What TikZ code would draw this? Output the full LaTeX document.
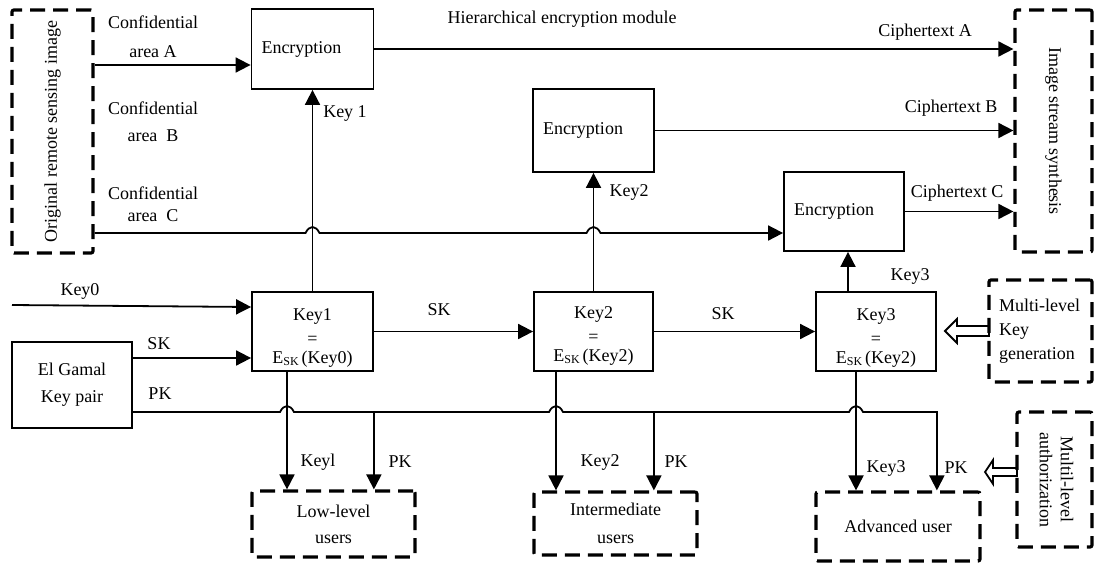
\documentclass[tikz,border=0pt]{standalone}
\usepackage{fontspec}
\setmainfont{Liberation Serif}
\usetikzlibrary{arrows.meta,calc}
\newcommand\sksub{\raisebox{-2.5pt}{\fontsize{12}{12}\selectfont SK}}
\begin{document}
\begin{tikzpicture}[x=1pt,y=-1pt,
  every node/.style={font=\fontsize{18}{21}\selectfont, inner sep=0pt},
  sbox/.style={draw, line width=1.8pt},
  dbox/.style={draw, line width=3.2pt, dash pattern=on 15pt off 8pt, rounded corners=2pt},
  ln/.style={line width=1.8pt},
  arr/.style={line width=1.8pt, -{Triangle[length=15pt,width=15pt]}},
  hollow/.style={line width=1.8pt, fill=white, line join=miter},
  hop/.style={insert path={-- ([xshift=-7pt]#1) .. controls ([xshift=-3pt,yshift=8pt]#1) and ([xshift=3pt,yshift=8pt]#1) .. ([xshift=7pt]#1)}}
]
\useasboundingbox (0,0) rectangle (1094,563);

% dashed boxes
\node[dbox, minimum width=81pt, minimum height=243pt] (orig) at (52.5,131.5) {\rotatebox{90}{Original remote sensing image}};
\node[dbox, minimum width=77pt, minimum height=242pt] (imgs) at (1053.5,131) {\rotatebox{-90}{Image stream synthesis}};

% encryption boxes
\node[sbox, minimum width=122pt, minimum height=80pt, text width=102pt, align=left] (enc1) at (312.5,49) {Encryption};
\node[sbox, minimum width=121pt, minimum height=83pt, text width=101pt, align=left] (enc2) at (593.5,130.5) {Encryption};
\node[sbox, minimum width=120pt, minimum height=79pt, text width=100pt, align=left] (enc3) at (844,211.5) {Encryption};

% key boxes
\node[sbox, minimum width=121pt, minimum height=79pt, align=center] (key1) at (312.5,331.5) {\rule{0pt}{24pt}Key1\\[3pt]=\\[-2pt]E\sksub\,(Key0)};
\node[sbox, minimum width=119pt, minimum height=79pt, align=center] (key2) at (593.5,331.5) {\rule{0pt}{20pt}Key2\\[3pt]=\\[-2pt]E\sksub\,(Key2)};
\node[sbox, minimum width=120pt, minimum height=79pt, align=center] (key3) at (876,331.5) {\rule{0pt}{24pt}Key3\\[3pt]=\\[-2pt]E\sksub\,(Key2)};

\node[sbox, minimum width=120pt, minimum height=86pt, align=center] (elg) at (72,385) {El Gamal\\[6pt]Key pair};

% user boxes
\node[dbox, minimum width=163pt, minimum height=66pt, align=center] (low) at (333.5,524) {Low-level\\[5pt]users};
\node[dbox, minimum width=163pt, minimum height=63pt, align=center] (int) at (615.5,523.5) {Intermediate\\[7pt]users};
\node[dbox, minimum width=164pt, minimum height=69pt] (adv) at (898,526.5) {Advanced user};

% hollow arrows
\draw[hollow] (989,326) -- ++(-32,0) -- ++(0,-7) -- ++(-12,12) -- ++(12,12) -- ++(0,-7) -- ++(32,0) -- cycle;
\draw[hollow] (1017,468) -- ++(-24,0) -- ++(0,-8) -- ++(-8,12) -- ++(8,12) -- ++(0,-8) -- ++(24,0) -- cycle;

\node[dbox, minimum width=103pt, minimum height=102pt, text width=83pt, align=left] (mkg) at (1040.5,331) {Multi-level\\[3pt]Key\\[3pt]generation};
\node[dbox, minimum width=75pt, minimum height=135pt] (mla) at (1054.5,479.5) {\rotatebox{-90}{\begin{tabular}{@{}c@{}}Multil-level\\authorization\end{tabular}}};

% coordinates
\coordinate (k0) at (12,305);
\coordinate (d1) at ([xshift=-25.5pt]key1.south);
\coordinate (d2) at ([xshift=-37.5pt]key2.south);
\coordinate (d3) at ([xshift=-20pt]key3.south);
\coordinate (ja) at (key1.north |- 0,233);
\coordinate (jb) at (key2.north |- 0,233);
\coordinate (h1) at (d1 |- 0,412);
\coordinate (h2) at (d2 |- 0,412);
\coordinate (h3) at (d3 |- 0,412);
\coordinate (p1) at (key1.east |- 0,412);
\coordinate (p2) at (key2.east |- 0,412);

% connectors top
\draw[arr] (orig.east |- 0,65) -- (enc1.west |- 0,65);
\draw[arr] (enc1.east) -- (enc1.east -| imgs.west);
\draw[arr] (enc2.east) -- (enc2.east -| imgs.west);
\draw[arr] (enc3.east) -- (enc3.east -| imgs.west);
\draw[arr] (orig.east |- 0,233) [hop=ja] [hop=jb] -- (enc3.west |- 0,233);
\draw[arr] (key1.north) -- (enc1.south);
\draw[arr] (key2.north) -- (enc2.south);
\draw[arr] ([xshift=-28pt]key3.north) -- ([xshift=4pt]enc3.south);

% connectors bottom
\draw[arr] (k0) -- (key1.west |- 0,307);
\draw[arr] (elg.east |- 0,358) -- (key1.west |- 0,358);
\draw[arr] (key1.east) -- (key2.west);
\draw[arr] (key2.east) -- (key3.west);
\draw[arr] (elg.east |- 0,412) [hop=h1] [hop=h2] [hop=h3] -- (key3.east |- 0,412) -- (key3.east |- adv.north);
\draw[arr] (d1) -- (d1 |- low.north);
\draw[arr] (p1) -- (p1 |- low.north);
\draw[arr] (d2) -- (d2 |- int.north);
\draw[arr] (p2) -- (p2 |- int.north);
\draw[arr] (d3) -- (d3 |- adv.north);

% labels
\node[align=center] (tA) at (153,36.5) {Confidential\\[8pt]area A};
\node[align=center] (tB) at (153,121.5) {Confidential\\[6pt]area~~B};
\node[align=center] (tC) at (153,204) {Confidential\\[1pt]area~~C};
\node (hem) at (562,19) {Hierarchical encryption module};
\node (cA) at (925,32) {Ciphertext A};
\node (cB) at (951,108) {Ciphertext B};
\node (cC) at (957,193) {Ciphertext C};
\node (k1l) at (345,113) {Key~1};
\node (k2l) at (629,192) {Key2};
\node (k3l) at (910,276) {Key3};
\node (k0l) at (80,291) {Key0};
\node (sk1) at (159,344) {SK};
\node (pk0) at (160,394) {PK};
\node (sk2) at (439,310) {SK};
\node (sk3) at (723,314) {SK};
\node (lk1) at (318,462) {Keyl};
\node (lp1) at (400,462) {PK};
\node (lk2) at (600,462) {Key2};
\node (lp2) at (676,462) {PK};
\node (lk3) at (886,468) {Key3};
\node (lp3) at (956,468) {PK};
\end{tikzpicture}
\end{document}
